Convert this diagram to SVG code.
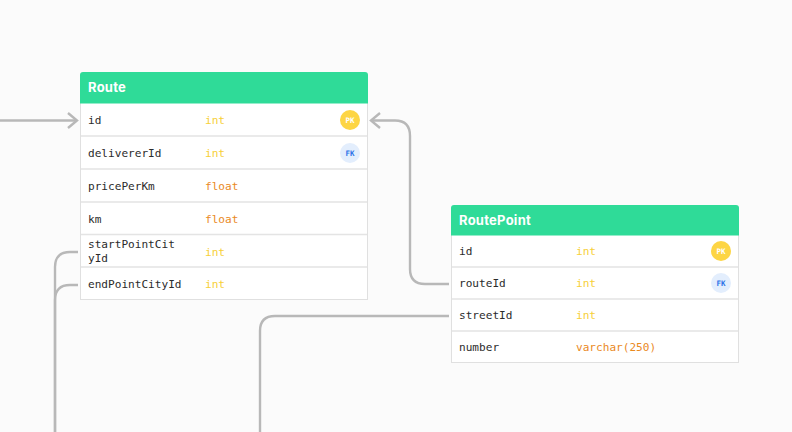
<svg xmlns="http://www.w3.org/2000/svg" width="792" height="432" viewBox="0 0 792 432">
<style>
.conn{fill:none;stroke:#b8b8b8;stroke-width:2.4}
.box{fill:#fff;stroke:#e0e0e0;stroke-width:1}
.sep{stroke:#e4e4e4;stroke-width:1.6}
.hd{fill:#2fdb98}
.title{font:700 13px Inter,"Liberation Sans",sans-serif;fill:#fff;letter-spacing:.25px}
.t{font:11.1px "DejaVu Sans Mono",monospace;fill:#2b2b2b}
.int{font:11.1px "DejaVu Sans Mono",monospace;fill:#f7d038}
.fl{font:11.1px "DejaVu Sans Mono",monospace;fill:#ea8a1f}
.pk{fill:#fdd544}
.fk{fill:#e3eefd}
.bt{font:600 7.5px "DejaVu Sans Mono",monospace;text-anchor:middle}
</style>
<rect width="792" height="432" fill="#fbfbfb"/>
<g id="connectors">
<path class="conn" d="M0 120.500H76"/>
<path class="conn" d="M68 113L77 120.500L68 128"/>
<path class="conn" d="M449 284H425Q410 284 410 269V136Q410 120.500 395 120.500H372"/>
<path class="conn" d="M380 113L371 120.500L380 128"/>
<path class="conn" d="M78 252H70Q55 252 55 267V432"/>
<path class="conn" d="M78 285H70Q55 285 55 300V432"/>
<path class="conn" d="M449 316H275Q260 316 260 331V432"/>
</g>
<g id="Route">
<rect class="box" x="80.500" y="75.500" width="287" height="224"/>
<path class="hd" d="M80 103.500V75Q80 72 83 72H365Q368 72 368 75V103.500Z"/>
<text class="title" x="88" y="92">Route</text>
<path class="sep" d="M81 136H367M81 169H367M81 202H367M81 234.500H367M81 267H367"/>
<text class="t" x="88" y="124">id</text><text class="int" x="205" y="124">int</text>
<circle class="pk" cx="350" cy="120" r="10"/><text class="bt" x="350" y="123" fill="#fff">PK</text>
<text class="t" x="88" y="157">delivererId</text><text class="int" x="205" y="157">int</text>
<circle class="fk" cx="350" cy="153" r="10"/><text class="bt" x="350" y="156" fill="#2b73e8">FK</text>
<text class="t" x="88" y="190">pricePerKm</text><text class="fl" x="205" y="190">float</text>
<text class="t" x="88" y="222.500">km</text><text class="fl" x="205" y="222.500">float</text>
<text class="t" x="88" y="248">startPointCit</text><text class="t" x="88" y="262">yId</text><text class="int" x="205" y="255.500">int</text>
<text class="t" x="88" y="288">endPointCityId</text><text class="int" x="205" y="288">int</text>
</g>
<g id="RoutePoint">
<rect class="box" x="451.500" y="208.500" width="287" height="154"/>
<path class="hd" d="M451 235.500V208Q451 205 454 205H736Q739 205 739 208V235.500Z"/>
<text class="title" x="459" y="225">RoutePoint</text>
<path class="sep" d="M452 267H738M452 299H738M452 331H738"/>
<text class="t" x="459" y="255">id</text><text class="int" x="576" y="255">int</text>
<circle class="pk" cx="721" cy="251" r="10"/><text class="bt" x="721" y="254" fill="#fff">PK</text>
<text class="t" x="459" y="287">routeId</text><text class="int" x="576" y="287">int</text>
<circle class="fk" cx="721" cy="283" r="10"/><text class="bt" x="721" y="286" fill="#2b73e8">FK</text>
<text class="t" x="459" y="319">streetId</text><text class="int" x="576" y="319">int</text>
<text class="t" x="459" y="351">number</text><text class="fl" x="576" y="351">varchar(250)</text>
</g>
</svg>
